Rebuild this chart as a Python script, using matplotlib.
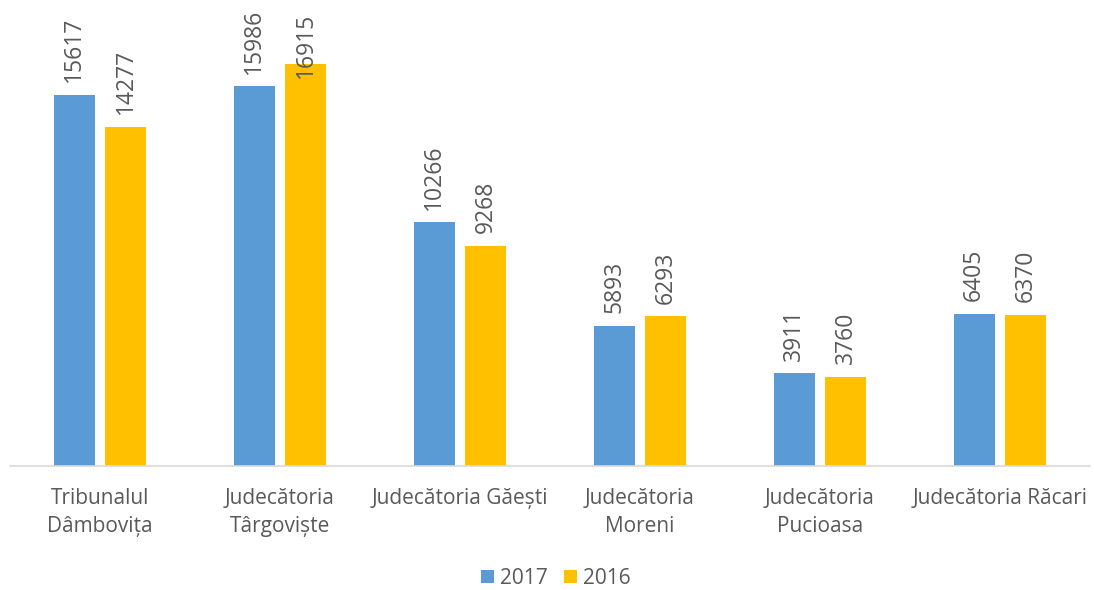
import matplotlib
matplotlib.use("Agg")
import matplotlib.pyplot as plt
import numpy as np

categories = ["Tribunalul\nDâmbovița", "Judecătoria\nTârgoviște", "Judecătoria Găești",
              "Judecătoria\nMoreni", "Judecătoria\nPucioasa", "Judecătoria Răcari"]
vals_2017 = [15617, 15986, 10266, 5893, 3911, 6405]
vals_2016 = [14277, 16915, 9268, 6293, 3760, 6370]

plt.rcParams["font.family"] = ["Open Sans", "DejaVu Sans"]
grey = "#595959"

fig = plt.figure(figsize=(10.94, 5.9), dpi=100)
ax = fig.add_axes([10 / 1094, 124 / 590, 1080 / 1094, 456 / 590])

x = np.arange(len(categories))
w = 0.228
off = 0.144
ymax = 19190
b1 = ax.bar(x - off, vals_2017, w, color="#5B9BD5", label="2017")
b2 = ax.bar(x + off, vals_2016, w, color="#FFC000", label="2016")

for bars in (b1, b2):
    for r in bars:
        cx = r.get_x() + r.get_width() / 2
        h = r.get_height()
        if h > 16500:
            # no room above: Excel pushes the label down inside the plot area
            ax.annotate(f"{int(h)}", (cx, 1), xycoords=("data", "axes fraction"),
                        textcoords="offset points", xytext=(0, -2), ha="center", va="top",
                        rotation=90, fontsize=16.5, color=grey)
        else:
            ax.annotate(f"{int(h)}", (cx, h), textcoords="offset points", xytext=(0, 9),
                        ha="center", va="bottom", rotation=90, fontsize=16.5, color=grey)

ax.set_xlim(-0.5, len(categories) - 0.5)
ax.set_ylim(0, ymax)
ax.set_yticks([])
ax.set_xticks(x)
ax.set_xticklabels(categories, fontsize=15, color=grey, linespacing=1.45)
ax.tick_params(axis="x", length=0, pad=16)
for s in ("top", "right", "left"):
    ax.spines[s].set_visible(False)
ax.spines["bottom"].set_color("#D9D9D9")
ax.spines["bottom"].set_linewidth(1.2)

fig.legend(loc="center", bbox_to_anchor=(0.5 + 9 / 1094, 1 - 578 / 590), ncol=2, frameon=False,
           fontsize=15, labelcolor=grey, handlelength=0.6, handleheight=0.6,
           handletextpad=0.3, columnspacing=0.8)

fig.savefig("out.png", dpi=100)
